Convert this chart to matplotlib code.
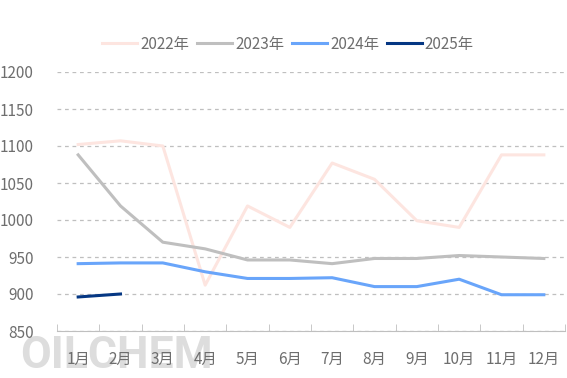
import matplotlib.pyplot as plt
import numpy as np

plt.rcParams['font.family'] = ['Noto Sans CJK SC', 'DejaVu Sans']

months = ['1月', '2月', '3月', '4月', '5月', '6月', '7月', '8月', '9月', '10月', '11月', '12月']
y2022 = [1102, 1107, 1100, 912, 1019, 990, 1077, 1055, 999, 990, 1088, 1088]
y2023 = [1088, 1019, 970, 961, 946, 946, 941, 948, 948, 952, 950, 948]
y2024 = [941, 942, 942, 930, 921, 921, 922, 910, 910, 920, 899, 899]
y2025 = [896, 900]

series = [('2022年', y2022, '#FDE5E0'),
          ('2023年', y2023, '#BFBFBF'),
          ('2024年', y2024, '#69A5FA'),
          ('2025年', y2025, '#053783')]

txt = '#6E6E6E'

fig = plt.figure(figsize=(5.67, 3.78), dpi=100)
ax = fig.add_axes([57/567, 1-331/378, 508/567, (331-72)/378])
ax.set_facecolor('none')

x = np.arange(len(months))
for name, vals, col in series:
    ax.plot(x[:len(vals)], vals, color=col, lw=2.2, label=name)

ax.set_xlim(-0.5, 11.5)
ax.set_ylim(850, 1200)
ax.set_yticks(np.arange(850, 1201, 50))
ax.set_xticks(x)
ax.set_xticklabels(months)
ax.xaxis.set_minor_locator(plt.FixedLocator(np.arange(-0.5, 12, 1)))
ax.tick_params(axis='x', which='major', length=0, pad=14, labelsize=11, labelcolor=txt)
ax.tick_params(axis='x', which='minor', direction='in', length=5, color='#BFBFBF')
ax.tick_params(axis='y', length=0, pad=17, labelsize=11, labelcolor=txt)

ax.grid(axis='y', color='#BFBFBF', ls=(0, (3, 3)), lw=0.9)
for s in ['top', 'left', 'right']:
    ax.spines[s].set_visible(False)
ax.spines['bottom'].set_color('#BFBFBF')

leg = fig.legend(loc='center', bbox_to_anchor=(288/567, 1-44/378), ncol=4, frameon=False,
                 fontsize=11, handlelength=2.3, handletextpad=0.2, columnspacing=0.5)
for t in leg.get_texts():
    t.set_color(txt)

# watermark
fig.text(20/567, 1-368/378, 'OILCHEM', fontsize=32, fontweight='bold', color='#DDDDDD',
         family='Roboto', ha='left', va='baseline', zorder=-1)

fig.savefig('out.png', dpi=100)
